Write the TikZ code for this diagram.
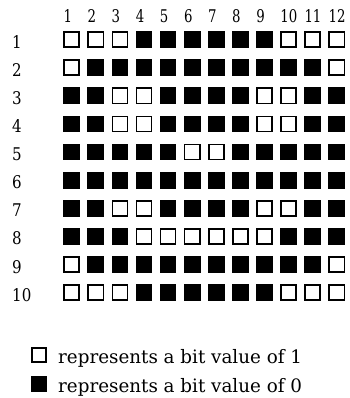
\documentclass[tikz,border=0pt]{standalone}
\usepackage{fontspec}
\setmainfont{DejaVu Serif}
\usepackage{graphicx}
\begin{document}
\begin{tikzpicture}[x=1pt,y=-1pt,
  one/.style={inner sep=0pt, outer sep=0pt, draw=black, line width=1.6pt, minimum size=15.1pt},
  zero/.style={inner sep=0pt, outer sep=0pt, fill=black, minimum size=16.7pt},
  lab/.style={inner sep=0pt, anchor=base west, font=\fontsize{17.5}{17.5}\selectfont},
  legtext/.style={inner sep=0pt, anchor=base west, font=\fontsize{18.5}{18.5}\selectfont}]
\useasboundingbox (0,0) rectangle (349,398);
% column labels
\foreach \c in {1,...,12}
  \node[lab] (col-\c) at ({63.3+(\c-1)*24.1},23) {\scalebox{0.76}[1]{\c}};
% rows
\foreach \r/\bits in {
  1/{1,1,1,0,0,0,0,0,0,1,1,1},
  2/{1,0,0,0,0,0,0,0,0,0,0,1},
  3/{0,0,1,1,0,0,0,0,1,1,0,0},
  4/{0,0,1,1,0,0,0,0,1,1,0,0},
  5/{0,0,0,0,0,1,1,0,0,0,0,0},
  6/{0,0,0,0,0,0,0,0,0,0,0,0},
  7/{0,0,1,1,0,0,0,0,1,1,0,0},
  8/{0,0,0,1,1,1,1,1,1,0,0,0},
  9/{1,0,0,0,0,0,0,0,0,0,0,1},
  10/{1,1,1,0,0,0,0,0,0,1,1,1}} {
  \node[lab] (row-\r) at (12,{48.2+(\r-1)*28.1}) {\scalebox{0.86}[1]{\r}};
  \foreach \b [count=\c] in \bits {
    \ifnum\b=1
      \node[one] (s-\r-\c) at ({71.65+(\c-1)*24.1},{39.65+(\r-1)*28.1}) {};
    \else
      \node[zero] (s-\r-\c) at ({71.65+(\c-1)*24.1},{39.65+(\r-1)*28.1}) {};
    \fi
  }
}
% legend
\node[one, minimum size=14.4pt] (leg1) at (39,355) {};
\node[zero, minimum size=16pt] (leg0) at (39,384) {};
\node[legtext] (legtext1) at (58,363) {\scalebox{0.99}[1]{represents a bit value of 1}};
\node[legtext] (legtext0) at (58,392) {\scalebox{0.99}[1]{represents a bit value of 0}};
\end{tikzpicture}
\end{document}
